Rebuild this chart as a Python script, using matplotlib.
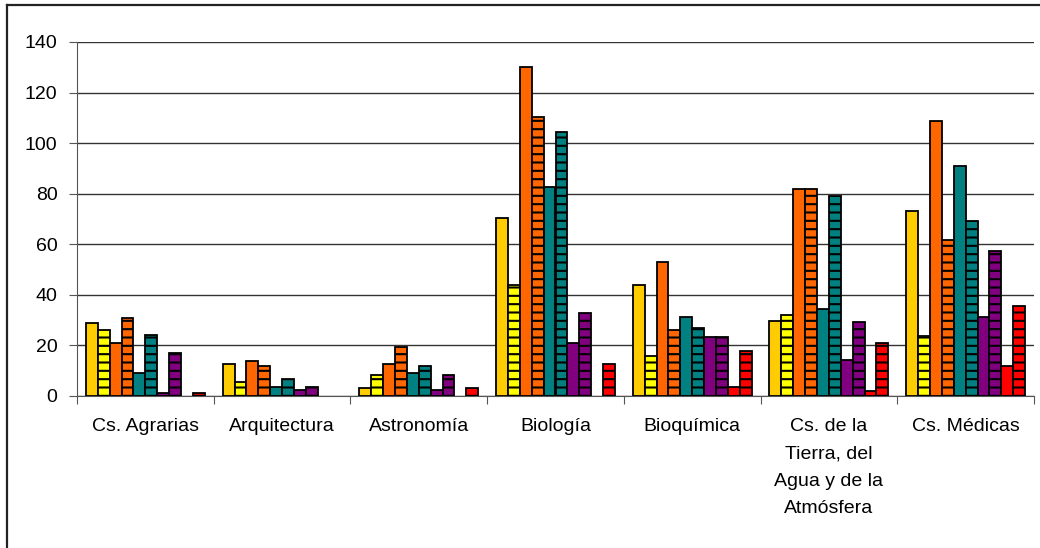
import numpy as np
import matplotlib.pyplot as plt
from matplotlib.lines import Line2D

categories = ["Cs. Agrarias", "Arquitectura", "Astronomía", "Biología", "Bioquímica",
              "Cs. de la\nTierra, del\nAgua y de la\nAtmósfera", "Cs. Médicas"]

# ten series per category
s1 = [29, 12.5, 3, 70.5, 44, 29.8, 73]
s2 = [26, 5.5, 8.2, 44, 15.7, 32, 23.8]
s3 = [21, 14, 12.5, 130.2, 52.8, 82, 108.8]
s4 = [31, 12, 19.4, 110.3, 26.1, 82, 61.8]
s5 = [9, 3.7, 8.9, 82.6, 31.1, 34.3, 90.8]
s6 = [24, 6.6, 11.9, 104.4, 26.8, 79, 69.3]
s7 = [1, 2.2, 2.2, 20.8, 23.2, 14.3, 31.1]
s8 = [17, 3.7, 8.2, 32.7, 23.2, 29.2, 57.4]
s9 = [0, 0, 0, 0, 3.7, 2.1, 11.8]
s10 = [1, 0, 3, 12.7, 17.8, 20.8, 35.7]

series = [s1, s2, s3, s4, s5, s6, s7, s8, s9, s10]
colors = ["#FFCC00", "#FFFF00", "#FF6600", "#FF6600", "#008080",
          "#008080", "#800080", "#800080", "#FF0000", "#FF0000"]
hatches = [None, "--", None, "--", None, "--", None, "--", None, "--"]

plt.rcParams["font.family"] = ["Liberation Sans", "DejaVu Sans"]
plt.rcParams["hatch.linewidth"] = 1.5
plt.rcParams["hatch.color"] = "#222222"

fig = plt.figure(figsize=(10.4, 5.48), dpi=100)
ax = fig.add_axes([77 / 1040, 1 - 396 / 548, (1034 - 77) / 1040, (396 - 42) / 548])

x = np.arange(len(categories))
w = 1 / 11.5
for j, vals in enumerate(series):
    # empty values draw no outline at the baseline
    lw = [1.3 if v > 0 else 0 for v in vals]
    ax.bar(x + (j - 4.5) * w, vals, width=w, color=colors[j], hatch=hatches[j],
           edgecolor="black", linewidth=lw, zorder=3)

ax.set_xlim(-0.5, len(categories) - 0.5)
ax.set_ylim(0, 140)
ax.set_yticks(range(0, 141, 20))
ax.yaxis.grid(True, color="#333333", linewidth=1.0)
ax.set_axisbelow(True)

ax.set_xticks(np.arange(len(categories) + 1) - 0.5)
ax.set_xticklabels([])
ax.set_xticks(x, minor=True)
ax.set_xticklabels(categories, minor=True, fontsize=14, linespacing=1.8, va="top")
ax.tick_params(axis="x", which="minor", length=0, pad=16)
ax.tick_params(axis="x", which="major", length=6, color="#555555")
ax.tick_params(axis="y", length=6, color="#555555", labelsize=14, pad=8)

for side in ["top", "right"]:
    ax.spines[side].set_visible(False)
ax.spines["left"].set_color("#555555")
ax.spines["bottom"].set_color("#555555")

# outer chart frame
fig.add_artist(Line2D([7 / 1040, 7 / 1040], [0, 1 - 5 / 548], color="#222222", linewidth=1.6))
fig.add_artist(Line2D([7 / 1040, 1], [1 - 5 / 548, 1 - 5 / 548], color="#222222", linewidth=1.6))

fig.savefig("out.png", dpi=100)
